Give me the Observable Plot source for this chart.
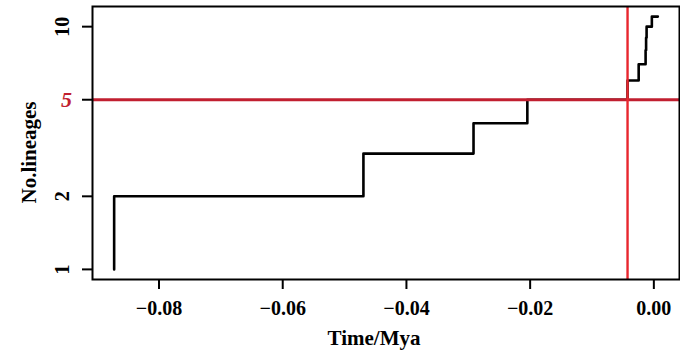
<!DOCTYPE html>
<html>
<head>
<meta charset="utf-8">
<script src="https://cdn.jsdelivr.net/npm/d3@7"></script>
<script src="https://cdn.jsdelivr.net/npm/@observablehq/plot@0.6"></script>
<style>
  html, body { margin: 0; padding: 0; background: #ffffff; }
  #chart { width: 680px; height: 356px; }
</style>
</head>
<body>
<div id="chart"></div>
<script>
// Lineage-through-time step data (time in Mya, number of lineages)
const times    = [-0.0879, -0.0879, -0.0476, -0.0298, -0.0211, -0.0049, -0.0031, -0.00198, -0.00190, -0.00182, -0.00097, 0.0];
const lineages = [1, 2, 3, 4, 5, 6, 7, 8, 9, 10, 11, 11];

const xTicks = [-0.08, -0.06, -0.04, -0.02, 0.0];
const yTicks = [1, 2, 5, 10];
const yTickLabels = [1, 2, 10];
const highlightLineages = [5];
const highlightTime = [-0.0049];

const xTitle = "Time/Mya";
const yTitle = "No.lineages";

const data = times.map((t, i) => ({t, n: lineages[i]}));

const font = "'Liberation Serif', 'Times New Roman', Times, serif";

const chart = Plot.plot({
  width: 680,
  height: 356,
  marginLeft: 92,
  marginRight: 1,
  marginTop: 6,
  marginBottom: 77,
  style: {fontFamily: font, fontWeight: "bold", background: "#ffffff", color: "#000"},
  x: {domain: [-0.0914, 0.0035]},
  y: {type: "log", domain: [0.9086, 12.107]},
  marks: [
    Plot.line(data, {x: "t", y: "n", curve: "step-after", stroke: "#000", strokeWidth: 2.6}),
    Plot.ruleY(highlightLineages, {y: d => d, stroke: "#c11f30", strokeWidth: 2.8}),
    Plot.ruleX(highlightTime, {x: d => d, stroke: "#e8262e", strokeWidth: 2.4}),
    Plot.frame({stroke: "#000", strokeWidth: 2}),
    Plot.axisX({ticks: xTicks, tickSize: 10, tickPadding: 11, strokeWidth: 2,
      tickFormat: d3.format(".2f"), fontSize: 20, fontWeight: "bold", dx: -4, label: null}),
    Plot.axisY({ticks: yTicks, tickSize: 10, strokeWidth: 2, tickFormat: () => "", label: null}),
    Plot.text(yTickLabels, {y: d => d, text: d => String(d), frameAnchor: "left", dx: -30,
      rotate: -90, textAnchor: "middle", lineAnchor: "middle", fontSize: 20, fontWeight: "bold", fill: "#000"}),
    Plot.text(highlightLineages, {y: d => d, text: d => String(d), frameAnchor: "left", dx: -26,
      textAnchor: "middle", lineAnchor: "middle", fontSize: 22, fontWeight: "bold", fontStyle: "italic", fill: "#c11f30"}),
    Plot.text([xTitle], {text: d => d, frameAnchor: "bottom", dx: -12, dy: 59,
      textAnchor: "middle", lineAnchor: "middle", fontSize: 21, fontWeight: "bold", fill: "#000"}),
    Plot.text([yTitle], {text: d => d, frameAnchor: "left", dx: -63, dy: 9.5, rotate: -90,
      textAnchor: "middle", lineAnchor: "middle", fontSize: 21, fontWeight: "bold", fill: "#000"})
  ]
});
document.getElementById("chart").appendChild(chart);
</script>
</body>
</html>
